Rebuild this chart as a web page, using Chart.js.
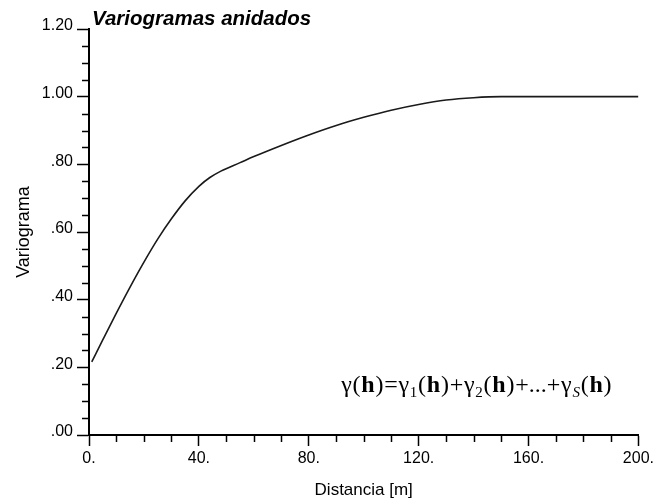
<!DOCTYPE html>
<html>
<head>
<meta charset="utf-8">
<script src="https://cdn.jsdelivr.net/npm/chart.js@4.4.0/dist/chart.umd.min.js"></script>
<style>
  html, body { margin: 0; padding: 0; background: #fff; }
</style>
</head>
<body>
<canvas id="chart" width="657" height="502"></canvas>
<script>
// values
const distances = [1, 5, 10, 15, 20, 25, 30, 35, 40, 44, 48, 55, 60, 70, 80, 90, 100, 110, 120, 130, 140, 150, 160, 170, 180, 190, 200];
const gammaValues = [0.216, 0.281, 0.361, 0.438, 0.511, 0.579, 0.639, 0.692, 0.735, 0.761, 0.780, 0.805, 0.823, 0.856, 0.887, 0.915, 0.939, 0.960, 0.977, 0.990, 0.997, 1.0, 1.0, 1.0, 1.0, 1.0, 1.0];

const xTickLabels = ["0.", "40.", "80.", "120.", "160.", "200."];
const yTickLabels = [".00", ".20", ".40", ".60", ".80", "1.00", "1.20"];

const TITLE = "Variogramas anidados";
const SANS = "'Liberation Sans', Arial, sans-serif";
const SERIF = "'Liberation Serif', 'Times New Roman', serif";

// minor ticks are shorter than the labelled ones, so draw those by hand
const minorTicks = {
  id: "minorTicks",
  afterDraw(chart) {
    const { ctx, scales: { x, y } } = chart;
    ctx.save();
    ctx.strokeStyle = "#000";
    ctx.lineWidth = 1.5;
    y.ticks.forEach((t, i) => {
      if (i % 4 === 0) return;
      const py = Math.round(y.getPixelForValue(t.value)) + 0.5;
      ctx.beginPath();
      ctx.moveTo(x.left - 7, py);
      ctx.lineTo(x.left, py);
      ctx.stroke();
    });
    x.ticks.forEach((t, i) => {
      if (i % 4 === 0) return;
      const px = Math.round(x.getPixelForValue(t.value)) + 0.5;
      ctx.beginPath();
      ctx.moveTo(px, y.bottom);
      ctx.lineTo(px, y.bottom + 7);
      ctx.stroke();
    });
    ctx.restore();
  },
};

// title + the nested-variogram formula
const annotations = {
  id: "annotations",
  afterDraw(chart) {
    const { ctx, scales: { x, y } } = chart;
    ctx.save();
    ctx.fillStyle = "#000";
    ctx.textBaseline = "alphabetic";
    ctx.font = `italic bold 20.5px ${SANS}`;
    ctx.fillText(TITLE, x.left + 3, 25);

    const reg = `24px ${SERIF}`;
    const bold = `bold 24px ${SERIF}`;
    const sub = `15px ${SERIF}`;
    const subIt = `italic 15px ${SERIF}`;
    const parts = [
      ["γ", reg, 0], ["(", reg, 0], ["h", bold, 0], [")", reg, 0], ["=", reg, 0],
      ["γ", reg, 0], ["1", sub, 5], ["(", reg, 0], ["h", bold, 0], [")", reg, 0], ["+", reg, 0],
      ["γ", reg, 0], ["2", sub, 5], ["(", reg, 0], ["h", bold, 0], [")", reg, 0], ["+...+", reg, 0],
      ["γ", reg, 0], ["S", subIt, 5], ["(", reg, 0], ["h", bold, 0], [")", reg, 0],
    ];
    // spread the pieces to the formula's width in the picture
    const start = x.getPixelForValue(91.8);
    const end = x.getPixelForValue(190.2);
    let natural = 0;
    parts.forEach(([txt, font]) => { ctx.font = font; natural += ctx.measureText(txt).width; });
    const gap = (end - start - natural) / (parts.length - 1);
    let px = start;
    const base = y.getPixelForValue(0.127);
    parts.forEach(([txt, font, dy]) => {
      ctx.font = font;
      ctx.fillText(txt, px, base + dy);
      px += ctx.measureText(txt).width + gap;
    });
    ctx.restore();
  },
};

new Chart(document.getElementById("chart"), {
  type: "line",
  data: {
    datasets: [{
      data: distances.map((d, i) => ({ x: d, y: gammaValues[i] })),
      borderColor: "#1a1a1a",
      borderWidth: 1.6,
      pointRadius: 0,
      fill: false,
      cubicInterpolationMode: "monotone",
    }],
  },
  options: {
    responsive: false,
    animation: false,
    layout: { padding: { left: 0, right: 17, top: 29, bottom: 0 } },
    plugins: {
      legend: { display: false },
      tooltip: { enabled: false },
    },
    scales: {
      x: {
        type: "linear",
        min: 0,
        max: 200,
        afterFit: (s) => { s.height = 67; },
        ticks: {
          stepSize: 10,
          autoSkip: false,
          maxRotation: 0,
          padding: 3,
          color: "#000",
          font: { family: SANS, size: 16 },
          callback: (v, i) => (i % 4 === 0 ? xTickLabels[i / 4] : ""),
        },
        grid: {
          drawOnChartArea: false,
          drawTicks: true,
          tickLength: 11,
          tickWidth: 1.5,
          tickColor: (c) => (c.index % 4 === 0 ? "#000" : "rgba(0,0,0,0)"),
        },
        border: { display: true, color: "#000", width: 2 },
        title: {
          display: true,
          text: "Distancia [m]",
          color: "#000",
          font: { family: SANS, size: 17 },
          padding: { top: 0, bottom: 1 },
        },
      },
      y: {
        min: 0,
        max: 1.2,
        afterFit: (s) => { s.width = 89; },
        ticks: {
          stepSize: 0.05,
          autoSkip: false,
          padding: 4,
          labelOffset: -3,
          color: "#000",
          font: { family: SANS, size: 16 },
          callback: (v, i) => (i % 4 === 0 ? yTickLabels[i / 4] : ""),
        },
        grid: {
          drawOnChartArea: false,
          drawTicks: true,
          tickLength: 12,
          tickWidth: 1.5,
          tickColor: (c) => (c.index % 4 === 0 ? "#000" : "rgba(0,0,0,0)"),
        },
        border: { display: true, color: "#000", width: 2 },
        title: {
          display: true,
          text: "Variograma",
          color: "#000",
          font: { family: SANS, size: 18 },
          padding: { top: 13, bottom: 0 },
        },
      },
    },
  },
  plugins: [minorTicks, annotations],
});
</script>
</body>
</html>
